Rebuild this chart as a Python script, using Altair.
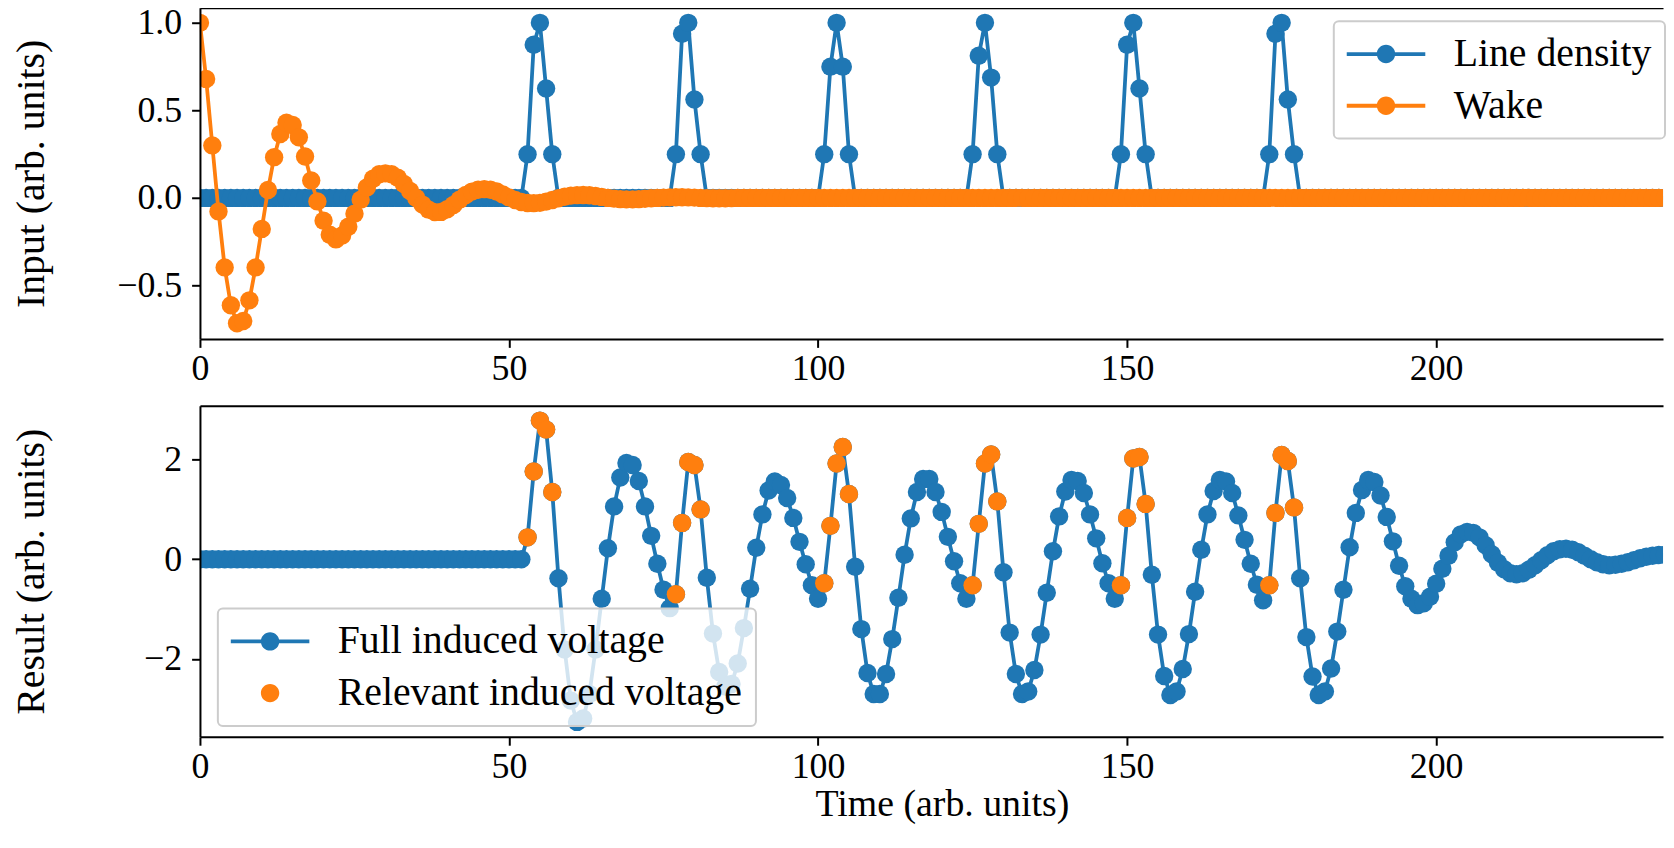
import altair as alt
import pandas as pd

# ---------------- data ----------------
T = list(range(238))

LINE_DENSITY = [
    0, 0, 0, 0, 0, 0, 0, 0, 0, 0,
    0, 0, 0, 0, 0, 0, 0, 0, 0, 0,
    0, 0, 0, 0, 0, 0, 0, 0, 0, 0,
    0, 0, 0, 0, 0, 0, 0, 0, 0, 0,
    0, 0, 0, 0, 0, 0, 0, 0, 0, 0,
    0, 0, 0, 0.25, 0.875, 1.0, 0.625, 0.25, 0, 0,
    0, 0, 0, 0, 0, 0, 0, 0, 0, 0,
    0, 0, 0, 0, 0, 0, 0, 0.25, 0.9375, 1.0,
    0.5625, 0.25, 0, 0, 0, 0, 0, 0, 0, 0,
    0, 0, 0, 0, 0, 0, 0, 0, 0, 0,
    0, 0.25, 0.75, 1.0, 0.75, 0.25, 0, 0, 0, 0,
    0, 0, 0, 0, 0, 0, 0, 0, 0, 0,
    0, 0, 0, 0, 0, 0.25, 0.8125, 1.0, 0.6875, 0.25,
    0, 0, 0, 0, 0, 0, 0, 0, 0, 0,
    0, 0, 0, 0, 0, 0, 0, 0, 0, 0.25,
    0.875, 1.0, 0.625, 0.25, 0, 0, 0, 0, 0, 0,
    0, 0, 0, 0, 0, 0, 0, 0, 0, 0,
    0, 0, 0, 0.25, 0.9375, 1.0, 0.5625, 0.25, 0, 0,
    0, 0, 0, 0, 0, 0, 0, 0, 0, 0,
    0, 0, 0, 0, 0, 0, 0, 0, 0, 0,
    0, 0, 0, 0, 0, 0, 0, 0, 0, 0,
    0, 0, 0, 0, 0, 0, 0, 0, 0, 0,
    0, 0, 0, 0, 0, 0, 0, 0, 0, 0,
    0, 0, 0, 0, 0, 0, 0, 0,
]

WAKE = [
    1.0, 0.68, 0.30, -0.077, -0.397, -0.613, -0.716, -0.703, -0.585, -0.397,
    -0.177, 0.045, 0.233, 0.365, 0.43, 0.417, 0.346, 0.237, 0.10, -0.02,
    -0.13, -0.21, -0.237, -0.215, -0.165, -0.09, -0.01, 0.06, 0.11, 0.135,
    0.14, 0.135, 0.115, 0.08, 0.04, 0.0, -0.038, -0.067, -0.081, -0.08,
    -0.065, -0.04, -0.01, 0.017, 0.036, 0.047, 0.05, 0.047, 0.037, 0.02,
    0.003, -0.012, -0.023, -0.029, -0.03, -0.028, -0.021, -0.012, -0.002, 0.007,
    0.013, 0.016, 0.017, 0.015, 0.011, 0.006, 0.0, -0.004, -0.007, -0.008,
    -0.008, -0.007, -0.005, -0.002, 0.0, 0.002, 0.003, 0.004, 0.004, 0.003,
    0.002, 0.0, -0.001, -0.002, -0.002, -0.002, -0.001, 0, 0, 0,
    0, 0, 0, 0, 0, 0, 0, 0, 0, 0,
    0, 0, 0, 0, 0, 0, 0, 0, 0, 0,
    0, 0, 0, 0, 0, 0, 0, 0, 0, 0,
    0, 0, 0, 0, 0, 0, 0, 0, 0, 0,
    0, 0, 0, 0, 0, 0, 0, 0, 0, 0,
    0, 0, 0, 0, 0, 0, 0, 0, 0, 0,
    0, 0, 0, 0, 0, 0, 0, 0, 0, 0,
    0, 0, 0, 0, 0, 0, 0, 0, 0, 0,
    0, 0, 0, 0, 0, 0, 0, 0, 0, 0,
    0, 0, 0, 0, 0, 0, 0, 0, 0, 0,
    0, 0, 0, 0, 0, 0, 0, 0, 0, 0,
    0, 0, 0, 0, 0, 0, 0, 0, 0, 0,
    0, 0, 0, 0, 0, 0, 0, 0, 0, 0,
    0, 0, 0, 0, 0, 0, 0, 0, 0, 0,
    0, 0, 0, 0, 0, 0, 0, 0,
]

FULL_VOLTAGE = [
    0, 0, 0, 0, 0, 0, 0, 0, 0, 0,
    0, 0, 0, 0, 0, 0, 0, 0, 0, 0,
    0, 0, 0, 0, 0, 0, 0, 0, 0, 0,
    0, 0, 0, 0, 0, 0, 0, 0, 0, 0,
    0, 0, 0, 0, 0, 0, 0, 0, 0, 0,
    0, 0, 0, 0.44, 1.76, 2.78, 2.60, 1.35, -0.38, -1.81,
    -2.83, -3.26, -3.19, -2.70, -1.81, -0.79, 0.22, 1.06, 1.64, 1.93,
    1.89, 1.57, 1.06, 0.47, -0.09, -0.61, -0.98, -0.70, 0.73, 1.95,
    1.89, 1.00, -0.37, -1.49, -2.26, -2.55, -2.50, -2.09, -1.38, -0.59,
    0.23, 0.90, 1.38, 1.56, 1.49, 1.23, 0.83, 0.35, -0.10, -0.52,
    -0.79, -0.48, 0.67, 1.92, 2.25, 1.31, -0.15, -1.40, -2.28, -2.70,
    -2.70, -2.30, -1.60, -0.77, 0.09, 0.82, 1.35, 1.61, 1.61, 1.35,
    0.95, 0.45, -0.04, -0.48, -0.79, -0.52, 0.71, 1.92, 2.10, 1.16,
    -0.26, -1.47, -2.30, -2.70, -2.65, -2.22, -1.51, -0.67, 0.16, 0.86,
    1.36, 1.59, 1.57, 1.33, 0.90, 0.42, -0.08, -0.48, -0.79, -0.52,
    0.83, 2.02, 2.05, 1.11, -0.31, -1.51, -2.34, -2.72, -2.65, -2.20,
    -1.50, -0.65, 0.19, 0.90, 1.37, 1.59, 1.56, 1.33, 0.88, 0.39,
    -0.09, -0.51, -0.82, -0.52, 0.93, 2.09, 1.97, 1.04, -0.38, -1.56,
    -2.35, -2.72, -2.65, -2.19, -1.45, -0.61, 0.24, 0.93, 1.39, 1.59,
    1.55, 1.28, 0.85, 0.36, -0.13, -0.54, -0.79, -0.92, -0.88, -0.75,
    -0.49, -0.19, 0.07, 0.34, 0.50, 0.55, 0.53, 0.44, 0.28, 0.10,
    -0.07, -0.20, -0.28, -0.30, -0.28, -0.21, -0.12, -0.02, 0.08, 0.16,
    0.20, 0.21, 0.19, 0.14, 0.07, 0.00, -0.06, -0.10, -0.12, -0.11,
    -0.09, -0.06, -0.02, 0.02, 0.05, 0.07, 0.085, 0.09,
]

REL_T = [53, 54, 55, 56, 57, 77, 78, 79, 80, 81,
         101, 102, 103, 104, 105, 125, 126, 127, 128, 129,
         149, 150, 151, 152, 153, 173, 174, 175, 176, 177]
REL_V = [0.44, 1.76, 2.78, 2.60, 1.35, -0.70, 0.73, 1.95, 1.89, 1.00,
         -0.48, 0.67, 1.92, 2.25, 1.31, -0.52, 0.71, 1.92, 2.10, 1.16,
         -0.52, 0.83, 2.02, 2.05, 1.11, -0.52, 0.93, 2.09, 1.97, 1.04]

TOP_SERIES = ["Line density", "Wake"]
BOT_SERIES = ["Full induced voltage", "Relevant induced voltage"]
X_TICKS = [0, 50, 100, 150, 200]
TOP_Y_TICKS = [-0.5, 0.0, 0.5, 1.0]
BOT_Y_TICKS = [-2, 0, 2]

assert len(LINE_DENSITY) == len(T) == len(WAKE) == len(FULL_VOLTAGE)

# ---------------- style ----------------
BLUE = "#1f77b4"
ORANGE = "#ff7f0e"
FONT = "Liberation Serif"
FS = 40        # y titles and legend
FS_XTITLE = 38
FS_TICK = 36   # tick labels
W = 1471
H = 333
X_DOMAIN = [0, 236.7]
TOP_Y_DOMAIN = [-0.806, 1.086]
BOT_Y_DOMAIN = [-3.56, 3.08]
MARK_SIZE = 342
LINE_W = 3.8

# legend symbols: line with a dot, and a dot alone (same width box)
PATH_LINE_DOT = ("M-4.27,-0.21L4.27,-0.21L4.27,0.21L-4.27,0.21Z "
                 "M1,0A1,1 0 1,1 -1,0A1,1 0 1,1 1,0Z")
PATH_DOT = "M-4.27,0L4.27,0Z M1,0A1,1 0 1,1 -1,0A1,1 0 1,1 1,0Z"

x_scale = alt.Scale(domain=X_DOMAIN, nice=False, zero=False)
top_y_scale = alt.Scale(domain=TOP_Y_DOMAIN, nice=False, zero=False)
bot_y_scale = alt.Scale(domain=BOT_Y_DOMAIN, nice=False, zero=False)

x_axis_top_panel = alt.Axis(values=X_TICKS, format="d", orient="bottom", title=None,
                            labelFlush=False, labelPadding=4.6, zindex=1)
x_axis_bot_panel = alt.Axis(values=X_TICKS, format="d", orient="bottom",
                            title="Time (arb. units)", titleX=746, titleY=68,
                            titleFontSize=FS_XTITLE,
                            titleAlign="center", titleBaseline="middle",
                            labelFlush=False, labelPadding=4.6, zindex=1)
frame_axis = alt.Axis(orient="top", labels=False, ticks=False, domain=True,
                      title=None, grid=False, zindex=1)


def y_axis(values, fmt, title):
    return alt.Axis(values=values, format=fmt, title=title, titleX=-169, titleY=H / 2,
                    titleAngle=270, titleAlign="center", titleBaseline="middle",
                    labelPadding=10, labelFlush=False, zindex=1)


top_y_axis = y_axis(TOP_Y_TICKS, ".1f", "Input (arb. units)")
bot_y_axis = y_axis(BOT_Y_TICKS, "d", "Result (arb. units)")

# ---------------- top panel ----------------
top_df = pd.DataFrame({"t": T, "ld": LINE_DENSITY, "wake": WAKE})
bt = alt.Chart(top_df)

ld_line = bt.mark_line(color=BLUE, strokeWidth=LINE_W, clip=True).encode(
    x=alt.X("t:Q", scale=x_scale, axis=x_axis_top_panel),
    y=alt.Y("ld:Q", scale=top_y_scale, axis=top_y_axis))
ld_pts = bt.mark_circle(color=BLUE, size=MARK_SIZE, opacity=1, clip=True).encode(
    x=alt.X("t:Q", scale=x_scale, axis=None),
    y=alt.Y("ld:Q", scale=top_y_scale, axis=top_y_axis))
wk_line = bt.mark_line(color=ORANGE, strokeWidth=LINE_W, clip=True).encode(
    x=alt.X("t:Q", scale=x_scale, axis=None),
    y=alt.Y("wake:Q", scale=top_y_scale, axis=top_y_axis))
wk_pts = bt.mark_circle(color=ORANGE, size=MARK_SIZE, opacity=1, clip=True).encode(
    x=alt.X("t:Q", scale=x_scale, axis=None),
    y=alt.Y("wake:Q", scale=top_y_scale, axis=top_y_axis))

top_legend = alt.Legend(title=None, orient="none", legendX=1140, legendY=13.5)
top_leg = alt.Chart(pd.DataFrame({"series": TOP_SERIES})).transform_filter("false").mark_point(
    filled=True, opacity=1, clip=True).encode(
    x=alt.X("t:Q", scale=x_scale, axis=frame_axis),
    y=alt.Y("v:Q", scale=top_y_scale, axis=top_y_axis),
    fill=alt.Fill("series:N", scale=alt.Scale(domain=TOP_SERIES, range=[BLUE, ORANGE]),
                  legend=top_legend),
    shape=alt.Shape("series:N", scale=alt.Scale(domain=TOP_SERIES,
                                                range=[PATH_LINE_DOT, PATH_LINE_DOT]),
                    legend=top_legend),
)

top = alt.layer(ld_line, ld_pts, wk_line, wk_pts, top_leg).resolve_axis(
    x="independent").properties(width=W, height=H)

# ---------------- bottom panel ----------------
bot_df = pd.DataFrame({"t": T, "full": FULL_VOLTAGE})
rel_df = pd.DataFrame({"t": REL_T, "rel": REL_V})
bb = alt.Chart(bot_df)

full_line = bb.mark_line(color=BLUE, strokeWidth=LINE_W, clip=True).encode(
    x=alt.X("t:Q", scale=x_scale, axis=x_axis_bot_panel),
    y=alt.Y("full:Q", scale=bot_y_scale, axis=bot_y_axis))
full_pts = bb.mark_circle(color=BLUE, size=MARK_SIZE, opacity=1, clip=True).encode(
    x=alt.X("t:Q", scale=x_scale, axis=None),
    y=alt.Y("full:Q", scale=bot_y_scale, axis=bot_y_axis))
rel_pts = alt.Chart(rel_df).mark_circle(color=ORANGE, size=MARK_SIZE, opacity=1, clip=True).encode(
    x=alt.X("t:Q", scale=x_scale, axis=None),
    y=alt.Y("rel:Q", scale=bot_y_scale, axis=bot_y_axis))

bot_legend = alt.Legend(title=None, orient="none", legendX=18, legendY=204)
bot_leg = alt.Chart(pd.DataFrame({"series": BOT_SERIES})).transform_filter("false").mark_point(
    filled=True, opacity=1, clip=True).encode(
    x=alt.X("t:Q", scale=x_scale, axis=frame_axis),
    y=alt.Y("v:Q", scale=bot_y_scale, axis=bot_y_axis),
    fill=alt.Fill("series:N", scale=alt.Scale(domain=BOT_SERIES, range=[BLUE, ORANGE]),
                  legend=bot_legend),
    shape=alt.Shape("series:N", scale=alt.Scale(domain=BOT_SERIES,
                                                range=[PATH_LINE_DOT, PATH_DOT]),
                    legend=bot_legend),
)

bottom = alt.layer(full_line, full_pts, rel_pts, bot_leg).resolve_axis(
    x="independent").properties(width=W, height=H)

# ---------------- assemble ----------------
chart = alt.vconcat(top, bottom, spacing=67, bounds="flush").resolve_scale(
    y="independent", fill="independent", shape="independent"
).properties(
    padding={"left": 4, "top": -5.4, "right": 0, "bottom": -1},
).configure_view(
    stroke=None
).configure_axis(
    labelFont=FONT, labelFontSize=FS_TICK, labelColor="black",
    titleFont=FONT, titleFontSize=FS, titleFontWeight="normal", titleColor="black",
    tickColor="black", tickSize=8.4, tickWidth=2,
    domainColor="black", domainWidth=2, grid=False,
).configure_legend(
    labelFont=FONT, labelFontSize=FS, labelColor="black", labelLimit=1000,
    padding=13, rowPadding=12, cornerRadius=5,
    fillColor="rgba(255,255,255,0.8)", strokeColor="#cccccc", strokeWidth=2,
    symbolSize=342, symbolOffset=19.5, labelOffset=48,
    symbolStrokeWidth=0, symbolStrokeColor="transparent", symbolOpacity=1,
)

chart.save("out.html", embed_options={"renderer": "svg", "actions": False})
